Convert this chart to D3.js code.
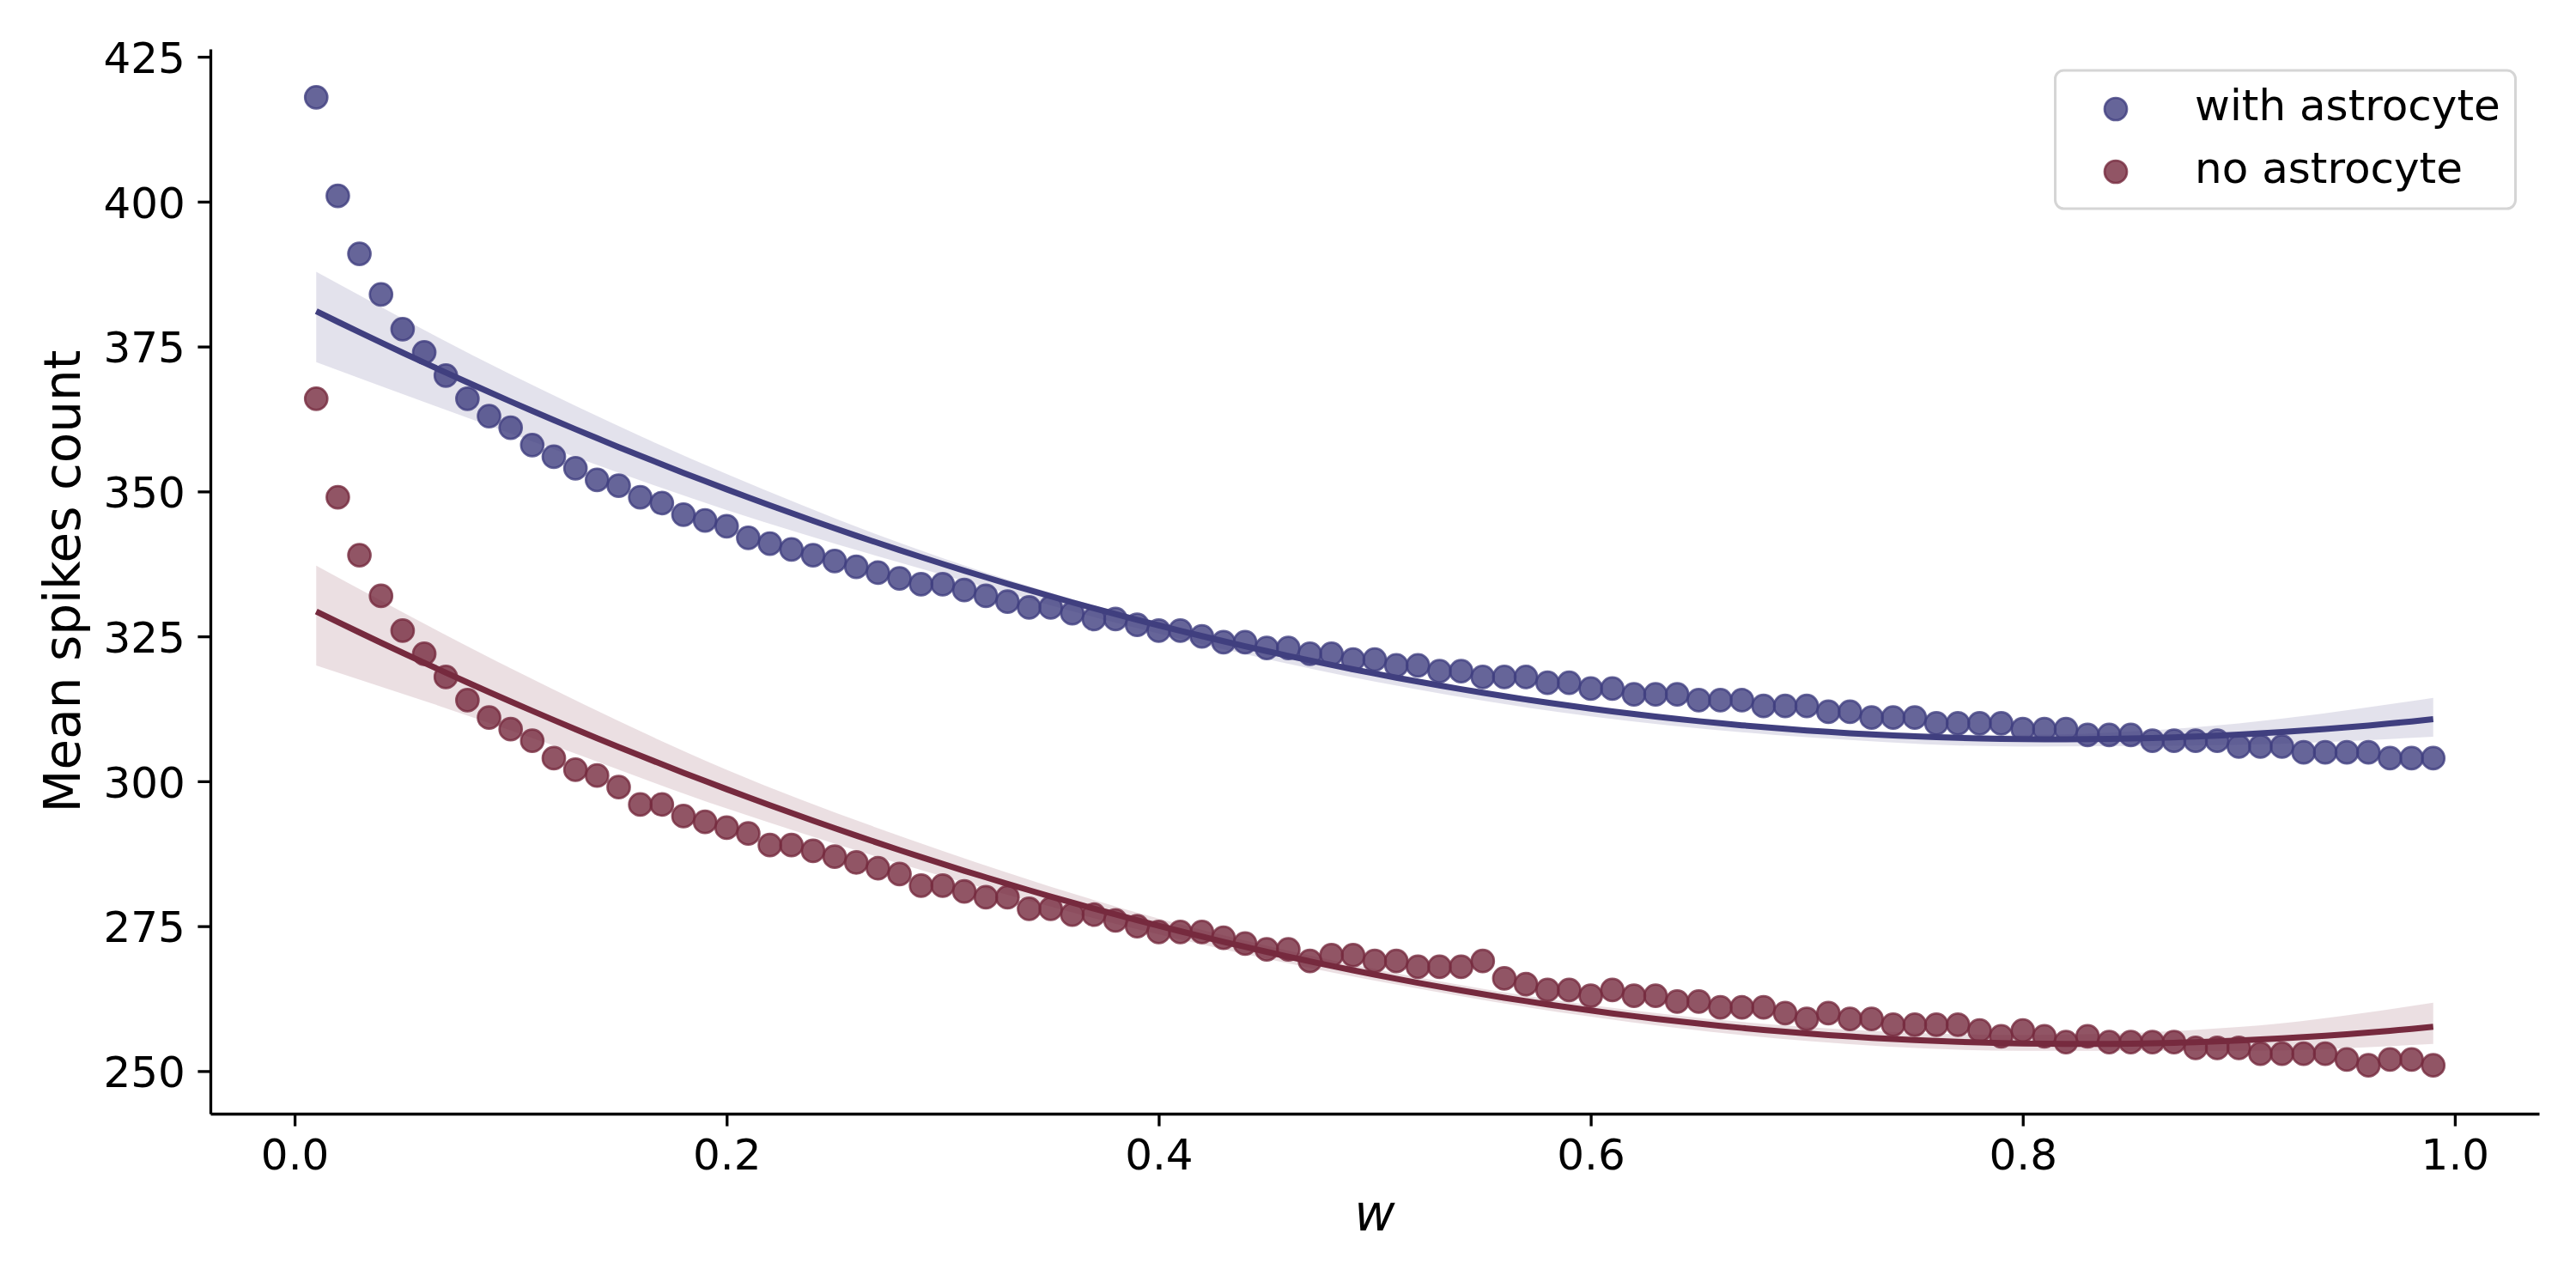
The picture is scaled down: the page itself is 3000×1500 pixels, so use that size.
<!DOCTYPE html>
<html lang="en">
<head>
<meta charset="utf-8">
<title>Mean spikes count vs w</title>
<script src="https://cdn.jsdelivr.net/npm/d3@7/dist/d3.min.js"></script>
<style>
  body { margin: 0; background: #fff; }
</style>
</head>
<body>
<script>
// ---- data ----
var wValues = [0.01,0.02,0.03,0.04,0.05,0.06,0.07,0.08,0.09,0.10,
               0.11,0.12,0.13,0.14,0.15,0.16,0.17,0.18,0.19,0.20,
               0.21,0.22,0.23,0.24,0.25,0.26,0.27,0.28,0.29,0.30,
               0.31,0.32,0.33,0.34,0.35,0.36,0.37,0.38,0.39,0.40,
               0.41,0.42,0.43,0.44,0.45,0.46,0.47,0.48,0.49,0.50,
               0.51,0.52,0.53,0.54,0.55,0.56,0.57,0.58,0.59,0.60,
               0.61,0.62,0.63,0.64,0.65,0.66,0.67,0.68,0.69,0.70,
               0.71,0.72,0.73,0.74,0.75,0.76,0.77,0.78,0.79,0.80,
               0.81,0.82,0.83,0.84,0.85,0.86,0.87,0.88,0.89,0.90,
               0.91,0.92,0.93,0.94,0.95,0.96,0.97,0.98,0.99]

var withAstrocyte = [418,401,391,384,378,374,370,366,363,361,
                     358,356,354,352,351,349,348,346,345,344,
                     342,341,340,339,338,337,336,335,334,334,
                     333,332,331,330,330,329,328,328,327,326,
                     326,325,324,324,323,323,322,322,321,321,
                     320,320,319,319,318,318,318,317,317,316,
                     316,315,315,315,314,314,314,313,313,313,
                     312,312,311,311,311,310,310,310,310,309,
                     309,309,308,308,308,307,307,307,307,306,
                     306,306,305,305,305,305,304,304,304]

var noAstrocyte = [366,349,339,332,326,322,318,314,311,309,
                   307,304,302,301,299,296,296,294,293,292,
                   291,289,289,288,287,286,285,284,282,282,
                   281,280,280,278,278,277,277,276,275,274,
                   274,274,273,272,271,271,269,270,270,269,
                   269,268,268,268,269,266,265,264,264,263,
                   264,263,263,262,262,261,261,261,260,259,
                   260,259,259,258,258,258,258,257,256,257,
                   256,255,256,255,255,255,255,254,254,254,
                   253,253,253,253,252,251,252,252,251]

// confidence bands of the fits, read at a few w positions
var bandW          = [0.01, 0.1,   0.2,   0.3,   0.4,   0.5,   0.6,   0.7,   0.8,   0.9,   0.99]
var withBandTop    = [387.9,370.2, 353.0, 338.5, 327.3, 318.8, 312.8, 309.2, 308.0, 310.0, 314.4]
var withBandBottom = [372.3,360.0, 346.8, 335.6, 325.5, 317.2, 311.2, 307.6, 306.0, 306.3, 307.7]
var noBandTop      = [337.2,319.5, 302.0, 288.0, 276.3, 267.6, 261.4, 257.6, 256.2, 257.6, 261.8]
var noBandBottom   = [320.0,308.8, 295.3, 283.6, 273.6, 265.6, 259.4, 255.2, 253.5, 253.5, 254.7]

var xTicks = [0.0,0.2,0.4,0.6,0.8,1.0]
var yTicks = [250,275,300,325,350,375,400,425]
var seriesNames = ['with astrocyte','no astrocyte']
var seriesColors = ['#403f7f','#762a3e']

// ---- canvas ----
var W = 3000, H = 1500
var plotLeft = 245, plotRight = 2957, plotTop = 57, plotBottom = 1297

var canvas = d3.select('body').append('svg')
	.attr('width',W).attr('height',H)
	.style('font-family','"DejaVu Sans", sans-serif')

canvas.append('rect').attr('width',W).attr('height',H).attr('fill','white')

var x = d3.scaleLinear().domain([-0.039,1.039]).range([plotLeft,plotRight])
var y = d3.scaleLinear().domain([242.65,426.35]).range([plotBottom,plotTop])

// quadratic least squares fit (seaborn regplot order=2)
function quadFit(xs, ys) {
	var S = [0,0,0,0,0], T = [0,0,0]
	xs.forEach(function(xi,i){
		var p = 1
		for (var k=0;k<5;k++){ S[k]+=p; p*=xi }
		T[0]+=ys[i]; T[1]+=ys[i]*xi; T[2]+=ys[i]*xi*xi
	})
	var M = [[S[0],S[1],S[2]],[S[1],S[2],S[3]],[S[2],S[3],S[4]]]
	function det(m){
		return m[0][0]*(m[1][1]*m[2][2]-m[1][2]*m[2][1])
			- m[0][1]*(m[1][0]*m[2][2]-m[1][2]*m[2][0])
			+ m[0][2]*(m[1][0]*m[2][1]-m[1][1]*m[2][0])
	}
	var D = det(M), coef = []
	for (var c=0;c<3;c++){
		var Mc = M.map(function(r,i){ var rr=r.slice(); rr[c]=T[i]; return rr })
		coef.push(det(Mc)/D)
	}
	return function(v){ return coef[0]+coef[1]*v+coef[2]*v*v }
}

var series = [
	{values: withAstrocyte, top: withBandTop, bot: withBandBottom},
	{values: noAstrocyte, top: noBandTop, bot: noBandBottom}
]

var area = d3.area()
	.x(function(d){ return x(d[0]) })
	.y0(function(d){ return y(d[2]) })
	.y1(function(d){ return y(d[1]) })
	.curve(d3.curveMonotoneX)

var line = d3.line()
	.x(function(d){ return x(d[0]) })
	.y(function(d){ return y(d[1]) })

// scatter + band (zorder 1)
series.forEach(function(s,si){
	var col = seriesColors[si]
	canvas.append('g').selectAll('circle')
		.data(wValues.map(function(w,i){ return [w, s.values[i]] }))
		.enter().append('circle')
		.attr('cx',function(d){ return x(d[0]) })
		.attr('cy',function(d){ return y(d[1]) })
		.attr('r',13)
		.attr('fill',col).attr('fill-opacity',0.8)
		.attr('stroke',col).attr('stroke-opacity',0.8).attr('stroke-width',2.7)

	canvas.append('path')
		.datum(bandW.map(function(w,i){ return [w, s.top[i], s.bot[i]] }))
		.attr('d',area)
		.attr('fill',col).attr('fill-opacity',0.15)
})

// fit lines (zorder 2)
series.forEach(function(s,si){
	var f = quadFit(wValues, s.values)
	canvas.append('path')
		.datum(wValues.map(function(w){ return [w, f(w)] }))
		.attr('d',line)
		.attr('fill','none')
		.attr('stroke',seriesColors[si])
		.attr('stroke-width',7)
})

// ---- axes ----
var xAxis = canvas.append('g')
	.attr('transform','translate(0,'+plotBottom+')')
	.call(d3.axisBottom(x).tickValues(xTicks).tickFormat(d3.format('.1f'))
		.tickSize(14.6).tickPadding(14.6).tickSizeOuter(0))

var yAxis = canvas.append('g')
	.attr('transform','translate('+plotLeft+',0)')
	.call(d3.axisLeft(y).tickValues(yTicks).tickFormat(d3.format('d'))
		.tickSize(14.6).tickPadding(14.6).tickSizeOuter(0))

;[xAxis,yAxis].forEach(function(a){
	a.attr('font-size',50).attr('font-family','"DejaVu Sans", sans-serif')
	a.select('.domain').attr('stroke','black').attr('stroke-width',3.3)
	a.selectAll('.tick line').attr('stroke','black').attr('stroke-width',3.3)
	a.selectAll('.tick text').attr('fill','black')
})
yAxis.selectAll('.tick text').attr('dy','0.365em')

canvas.append('text')
	.attr('x',(plotLeft+plotRight)/2).attr('y',1433)
	.attr('text-anchor','middle')
	.attr('font-size',58).attr('font-style','italic')
	.text('w')

canvas.append('text')
	.attr('transform','translate(93,'+((plotTop+plotBottom)/2)+') rotate(-90)')
	.attr('text-anchor','middle')
	.attr('font-size',58)
	.text('Mean spikes count')

// ---- legend ----
var legend = canvas.append('g')
legend.append('rect')
	.attr('x',2393.5).attr('y',82).attr('width',536).attr('height',161).attr('rx',10)
	.attr('fill','white').attr('fill-opacity',0.8)
	.attr('stroke','#d5d5d5').attr('stroke-width',3)

var rows = legend.selectAll('g.row').data(seriesNames).enter().append('g')
	.attr('transform',function(d,i){ return 'translate(0,'+(127+i*73)+')' })
rows.append('circle')
	.attr('cx',2464).attr('cy',0).attr('r',13)
	.attr('fill',function(d,i){ return seriesColors[i] }).attr('fill-opacity',0.8)
	.attr('stroke',function(d,i){ return seriesColors[i] }).attr('stroke-opacity',0.8).attr('stroke-width',2.7)
rows.append('text')
	.attr('x',2556).attr('y',13)
	.attr('font-size',50)
	.text(function(d){ return d })
</script>
</body>
</html>
